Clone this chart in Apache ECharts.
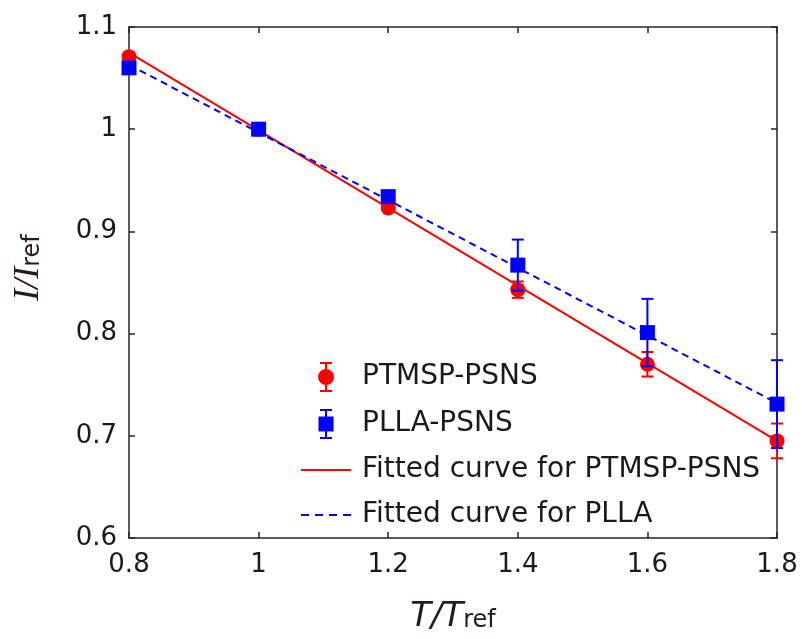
<!DOCTYPE html>
<html>
<head>
<meta charset="utf-8">
<script src="https://cdn.jsdelivr.net/npm/echarts@6/dist/echarts.min.js"></script>
<style>
html,body{margin:0;padding:0;background:#fff;}
#chart{width:802px;height:639px;}
</style>
</head>
<body>
<div id="chart"></div>
<script>
// ---- data ----
var xValues = [0.8, 1.0, 1.2, 1.4, 1.6, 1.8];
var ptmspValues = [1.071, 1.000, 0.923, 0.843, 0.770, 0.695];
var ptmspErrors = [0.003, 0.000, 0.003, 0.008, 0.012, 0.017];
var pllaValues = [1.060, 1.000, 0.934, 0.867, 0.801, 0.731];
var pllaErrors = [0.000, 0.000, 0.003, 0.025, 0.033, 0.043];
var ptmspFitX = [0.8, 1.8];
var ptmspFitY = [1.075, 0.695];
var pllaFitX = [0.8, 1.8];
var pllaFitY = [1.063, 0.732];
var xTicks = [0.8, 1.8, 0.2];
var yTicks = [0.6, 1.1, 0.1];
var seriesNames = ['PTMSP-PSNS', 'PLLA-PSNS', 'Fitted curve for PTMSP-PSNS', 'Fitted curve for PLLA'];

function pairs(xs, ys) { return xs.map(function (x, i) { return [x, ys[i]]; }); }
function errData(xs, ys, es) { return xs.map(function (x, i) { return [x, ys[i] - es[i], ys[i] + es[i]]; }); }

function errRender(color) {
  return function (params, api) {
    var x = api.value(0);
    var lo = api.coord([x, api.value(1)]);
    var hi = api.coord([x, api.value(2)]);
    var hw = 6;
    var st = { stroke: color, lineWidth: 2 };
    return {
      type: 'group',
      children: [
        { type: 'line', shape: { x1: lo[0], y1: lo[1], x2: hi[0], y2: hi[1] }, style: st },
        { type: 'line', shape: { x1: lo[0] - hw, y1: lo[1], x2: lo[0] + hw, y2: lo[1] }, style: st },
        { type: 'line', shape: { x1: hi[0] - hw, y1: hi[1], x2: hi[0] + hw, y2: hi[1] }, style: st }
      ]
    };
  };
}

var circleIcon = 'path://M11 0h2v30h-2z M6 0h12v2h-12z M6 28h12v2h-12z M20 15a8 8 0 1 1 -16 0a8 8 0 1 1 16 0z';
var squareIcon = 'path://M11 0h2v30h-2z M6 0h12v2h-12z M6 28h12v2h-12z M4.5 7.5h15v15h-15z';
var solidIcon = 'path://M0 0h50v2h-50z';
var dashIcon = 'path://M0 0h8v2h-8z M14 0h8v2h-8z M28 0h8v2h-8z M42 0h8v2h-8z';

var textColor = '#1a1a1a';
var axisColor = '#262626';

var chart = echarts.init(document.getElementById('chart'), null, { renderer: 'canvas' });
chart.setOption({
  animation: false,
  backgroundColor: '#ffffff',
  grid: { left: 129, right: 25, top: 27, bottom: 100, containLabel: false },
  legend: {
    orient: 'vertical',
    left: 296,
    top: 357,
    itemWidth: 50,
    itemHeight: 30,
    itemGap: 17,
    itemStyle: { opacity: 1 },
    textStyle: { fontFamily: 'DejaVu Sans', fontSize: 28, color: textColor, padding: [0, 0, 0, 6] },
    data: [
      { name: seriesNames[0], icon: circleIcon, itemStyle: { color: '#ff0000', opacity: 1 } },
      { name: seriesNames[1], icon: squareIcon, itemStyle: { color: '#0000ff', opacity: 1 } },
      { name: seriesNames[2], icon: solidIcon, itemStyle: { color: '#ff0000', opacity: 1 } },
      { name: seriesNames[3], icon: dashIcon, itemStyle: { color: '#0000ff', opacity: 1 } }
    ]
  },
  xAxis: [
    {
      type: 'value', min: xTicks[0], max: xTicks[1], interval: xTicks[2],
      name: '{it|T/T}{sub|ref}', nameLocation: 'middle', nameGap: 62,
      nameTextStyle: {
        rich: {
          it: { fontFamily: 'DejaVu Sans', fontStyle: 'italic', fontSize: 34, color: '#2a1a1a' },
          sub: { fontFamily: 'DejaVu Sans', fontSize: 24, color: '#2a1a1a', padding: [8, 0, 0, 0] }
        }
      },
      axisLine: { lineStyle: { color: axisColor, width: 1.5 } },
      axisTick: { inside: true, length: 6, lineStyle: { color: axisColor, width: 1.5 } },
      axisLabel: { fontFamily: 'DejaVu Sans', fontSize: 26, color: textColor, margin: 14 },
      splitLine: { show: false }
    },
    {
      type: 'value', position: 'top', min: xTicks[0], max: xTicks[1], interval: xTicks[2],
      axisLine: { lineStyle: { color: axisColor, width: 1.5 } },
      axisTick: { inside: true, length: 6, lineStyle: { color: axisColor, width: 1.5 } },
      axisLabel: { show: false },
      splitLine: { show: false }
    }
  ],
  yAxis: [
    {
      type: 'value', min: yTicks[0], max: yTicks[1], interval: yTicks[2],
      name: '{it|I/I}{sub|ref}', nameLocation: 'middle', nameGap: 82,
      nameTextStyle: {
        padding: [0, 0, 0, 30],
        rich: {
          it: { fontFamily: 'Liberation Serif', fontStyle: 'italic', fontSize: 36, color: '#2a1a1a' },
          sub: { fontFamily: 'DejaVu Sans', fontSize: 24, color: '#2a1a1a', padding: [8, 0, 0, 0] }
        }
      },
      axisLine: { lineStyle: { color: axisColor, width: 1.5 } },
      axisTick: { inside: true, length: 6, lineStyle: { color: axisColor, width: 1.5 } },
      axisLabel: { fontFamily: 'DejaVu Sans', fontSize: 26, color: textColor, margin: 12 },
      splitLine: { show: false }
    },
    {
      type: 'value', position: 'right', min: yTicks[0], max: yTicks[1], interval: yTicks[2],
      axisLine: { lineStyle: { color: axisColor, width: 1.5 } },
      axisTick: { inside: true, length: 6, lineStyle: { color: axisColor, width: 1.5 } },
      axisLabel: { show: false },
      splitLine: { show: false }
    }
  ],
  series: [
    {
      name: seriesNames[2], type: 'line', data: pairs(ptmspFitX, ptmspFitY),
      symbol: 'none', clip: false, z: 2,
      lineStyle: { color: '#ff0000', width: 2 }, itemStyle: { color: '#ff0000' }
    },
    {
      name: seriesNames[3], type: 'line', data: pairs(pllaFitX, pllaFitY),
      symbol: 'none', clip: false, z: 2,
      lineStyle: { color: '#0000ff', width: 2, type: [7, 5] }, itemStyle: { color: '#0000ff' }
    },
    {
      name: 'ptmspErr', type: 'custom', data: errData(xValues, ptmspValues, ptmspErrors),
      renderItem: errRender('#ff0000'), clip: false, z: 3
    },
    {
      name: 'pllaErr', type: 'custom', data: errData(xValues, pllaValues, pllaErrors),
      renderItem: errRender('#0000ff'), clip: false, z: 5
    },
    {
      name: seriesNames[0], type: 'scatter', data: pairs(xValues, ptmspValues),
      symbol: 'circle', symbolSize: 15, clip: false, z: 4,
      itemStyle: { color: '#ff0000', opacity: 1 }
    },
    {
      name: seriesNames[1], type: 'scatter', data: pairs(xValues, pllaValues),
      symbol: 'rect', symbolSize: 15, clip: false, z: 6,
      itemStyle: { color: '#0000ff', opacity: 1 }
    }
  ]
});
</script>
</body>
</html>
